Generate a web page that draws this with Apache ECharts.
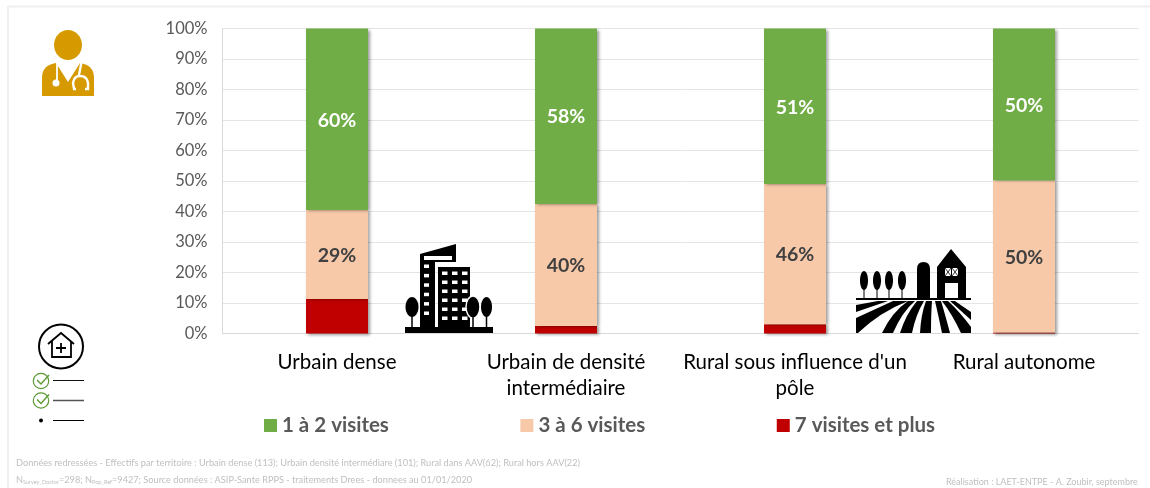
<!DOCTYPE html>
<html>
<head>
<meta charset="utf-8">
<style>
  html, body { margin: 0; padding: 0; background: #fff; }
  #chart { width: 1150px; height: 488px; }
</style>
<script src="https://cdn.jsdelivr.net/npm/echarts@6/dist/echarts.min.js"></script>
</head>
<body>
<div id="chart"></div>
<script>
// categories and values (percent)
const categories = ['Urbain dense', 'Urbain de densité\nintermédiaire', "Rural sous influence d'un\npôle", 'Rural autonome']
const visits7Plus = [11.3, 2.5, 3, 0.3]
const visits3to6 = [29.2, 40, 46, 49.9]
const visits1to2 = [59.5, 57.5, 51, 49.8]

const FONT = 'Lato, "Open Sans", sans-serif'
const GOLD = '#D69A00'
const CHECK = '#5C9A33'

function barSeries (name, data, color, labelColor) {
  return {
    type: 'bar',
    stack: 'visits',
    name: name,
    data: data,
    barWidth: 62,
    itemStyle: { color: color, shadowColor: 'rgba(0,0,0,0.4)', shadowBlur: 3, shadowOffsetX: 2, shadowOffsetY: 1 },
    label: {
      show: !!labelColor,
      position: 'inside',
      offset: [0, 1],
      color: labelColor,
      fontFamily: FONT,
      fontWeight: 'bold',
      fontSize: 19.5,
      formatter: p => Math.round(p.value) + '%'
    }
  }
}

// pictos : the graphic component has no plain 'path' type, so each one gets its own shape class
let pathCount = 0
function svgPath (d, style, z) {
  const name = 'picto' + pathCount++
  echarts.graphic.registerShape(name, echarts.graphic.extendPath(d, {}))
  return { type: name, style: style, z: z }
}
function whiteRect (x, y, w, h) {
  return { type: 'rect', shape: { x, y, width: w, height: h }, style: { fill: '#fff' }, z: 11 }
}
function tree (cx, top, rx, ry, bottom) {
  return [
    { type: 'ellipse', shape: { cx, cy: top + ry, rx, ry }, style: { fill: '#000' }, z: 10 },
    { type: 'line', shape: { x1: cx, y1: top + ry, x2: cx, y2: bottom }, style: { stroke: '#000', lineWidth: 1 }, z: 10 }
  ]
}
function line (x1, y1, x2, y2, color, w, z) {
  return { type: 'line', shape: { x1, y1, x2, y2 }, style: { stroke: color, lineWidth: w }, z: z || 10 }
}

function doctorIcon () {
  return [
    { type: 'ellipse', shape: { cx: 68, cy: 45, rx: 14, ry: 15 }, style: { fill: GOLD }, z: 10 },
    svgPath('M42 96 L42 78 Q42 65 56 63 L68 82 L80 63 Q94 65 94 78 L94 96 Z', { fill: GOLD }, 10),
    line(57, 63, 57, 80, '#fff', 1.8, 11),
    { type: 'circle', shape: { cx: 56, cy: 83, r: 3.5 }, style: { fill: '#fff' }, z: 11 },
    svgPath('M81.5 62 L79 75 M74 89 L73 83 Q74 76 80 76 Q87 76 88 83 L88 89 L85 89 M73 89 L76 89', { fill: 'none', stroke: '#fff', lineWidth: 2.4 }, 11)
  ]
}

function buildingIcon () {
  const els = [
    { type: 'rect', z: 10, shape: { x: 405, y: 327, width: 88, height: 6 }, style: { fill: '#000' } },
    svgPath('M420 254 L456 244 L456 262 L435 262 L435 327 L420 327 Z', { fill: '#000' }, 10),
    { type: 'rect', z: 10, shape: { x: 438, y: 267, width: 32, height: 60 }, style: { fill: '#000' } },
    whiteRect(424, 256, 28, 4)
  ]
  for (let i = 0; i < 6; i++) els.push(whiteRect(424, 264.5 + i * 9.4, 5, 3.5))
  for (let r = 0; r < 6; r++) {
    for (let c = 0; c < 3; c++) els.push(whiteRect(442 + c * 10, 271.5 + r * 9, 5.5, 3.5))
  }
  return els.concat(
    { type: 'ellipse', z: 12, shape: { cx: 473, cy: 307, rx: 7, ry: 11 }, style: { fill: '#000', stroke: '#fff', lineWidth: 1.5 } },
    line(473, 312, 473, 327, '#000', 1.5, 12),
    { type: 'ellipse', z: 12, shape: { cx: 486.5, cy: 307, rx: 5.5, ry: 10 }, style: { fill: '#000' } },
    line(486.5, 312, 486.5, 327, '#000', 1.5, 12),
    { type: 'ellipse', z: 12, shape: { cx: 412, cy: 307, rx: 6.5, ry: 10 }, style: { fill: '#000' } },
    line(412, 312, 412, 327, '#000', 1.5, 12)
  )
}

function farmIcon () {
  const stripes = [
    'M856 305 L878 301 L888 301 L856 312 Z',
    'M856 318 L893 301 L901 301 L866 322 L856 330 Z',
    'M856 333 L858 333 Q880 312 908 301 L899 301 Q872 312 856 327 Z',
    'M882 333 L893 333 Q902 312 915 301 L908 301 Q892 312 882 333 Z',
    'M900 333 L912 333 Q916 314 924 301 L917 301 Q906 314 900 333 Z',
    'M920 333 L931 333 Q931 314 932 301 L926 301 Q921 314 920 333 Z',
    'M942 333 L950 333 Q945 314 941 301 L935 301 Q938 314 942 333 Z',
    'M961 333 L971 333 L971 327 Q960 312 948 301 L942 301 Q952 314 961 333 Z',
    'M971 320 L971 312 Q962 306 955 301 L950 301 Q960 310 971 320 Z'
  ]
  const els = [
    line(856, 299, 971, 299, '#000', 2),
    svgPath('M917 299 L917 269 Q917 262 923.5 262 Q930 262 930 269 L930 299 Z', { fill: '#000' }, 10),
    svgPath('M937 299 L937 267 L951 249 L966 267 L966 299 Z', { fill: '#000' }, 10),
    whiteRect(945, 283, 13, 15),
    whiteRect(945, 268, 6, 8),
    whiteRect(952, 268, 6, 8),
    // croisillons des lucarnes
    line(945, 268, 951, 276, '#333', 1, 12),
    line(951, 268, 945, 276, '#333', 1, 12),
    line(952, 268, 958, 276, '#333', 1, 12),
    line(958, 268, 952, 276, '#333', 1, 12)
  ]
  ;[864, 877, 889, 902].forEach(x => els.push(...tree(x, 271, 4, 9.5, 299)))
  stripes.forEach(d => els.push(svgPath(d, { fill: '#000' }, 10)))
  return els
}

function checklistIcon () {
  const els = [
    { type: 'circle', z: 10, shape: { cx: 61, cy: 346.5, r: 22 }, style: { fill: '#fff', stroke: '#000', lineWidth: 2 } },
    svgPath('M48 344 L61 333 L74 344 M52 341 L52 357 L71 357 L71 341 M61 343 L61 353 M56 348 L66 348', { fill: 'none', stroke: '#000', lineWidth: 1.8 }, 11)
  ]
  ;[381, 400.5].forEach((y, i) => {
    els.push(
      { type: 'circle', z: 10, shape: { cx: 41, cy: y, r: 7.7 }, style: { fill: 'none', stroke: CHECK, lineWidth: 1.2 } },
      svgPath(`M37 ${y - 1} L41 ${y + 3} L49 ${y - 6}`, { fill: 'none', stroke: CHECK, lineWidth: 1.4 }, 10)
    )
  })
  els.push(
    line(53, 380.5, 84, 380.5, '#111', 1),
    line(53, 400.5, 84, 400.5, '#555', 1.5),
    { type: 'circle', z: 10, shape: { cx: 41, cy: 420.5, r: 2 }, style: { fill: '#000' } },
    line(53, 420.5, 84, 420.5, '#000', 1)
  )
  return els
}

function footText (x, y, text, size, rich) {
  return {
    type: 'text', x, y, z: 10,
    style: { text, fill: '#BFBFBF', font: size + 'px ' + FONT, rich, verticalAlign: 'middle' }
  }
}

const subRich = { s: { fontSize: 5.5, fontFamily: FONT, fill: '#BFBFBF', padding: [5, 0, 0, 0] }, n: { fontSize: 9.2, fontFamily: FONT, fill: '#BFBFBF' } }

const chart = echarts.init(document.getElementById('chart'))
chart.setOption({
  animation: false,
  backgroundColor: '#fff',
  grid: { left: 222.5, right: 11.5, top: 28.5, height: 305 },
  legend: {
    left: 259,
    top: 410,
    icon: 'rect',
    itemWidth: 13,
    itemHeight: 13,
    itemGap: 131.5,
    textStyle: { color: '#595959', fontFamily: FONT, fontWeight: 'bold', fontSize: 20.5 },
    data: ['1 à 2 visites', '3 à 6 visites', '7 visites et plus']
  },
  xAxis: {
    type: 'category',
    data: categories,
    axisTick: { show: false },
    axisLine: { lineStyle: { color: '#D9D9D9' } },
    axisLabel: { color: '#000', fontFamily: FONT, fontSize: 20.5, lineHeight: 26, margin: 16, interval: 0 }
  },
  yAxis: {
    type: 'value',
    min: 0,
    max: 100,
    interval: 10,
    axisLine: { show: true, lineStyle: { color: '#D9D9D9' } },
    axisTick: { show: false },
    splitLine: { lineStyle: { color: '#E4E4E4', width: 1 } },
    axisLabel: { color: '#595959', fontFamily: FONT, fontSize: 16.5, margin: 15, formatter: '{value}%' }
  },
  series: [
    barSeries('7 visites et plus', visits7Plus, '#C00000', null),
    barSeries('3 à 6 visites', visits3to6, '#F7C9A9', '#404040'),
    barSeries('1 à 2 visites', visits1to2, '#70AD47', '#fff')
  ],
  graphic: {
    elements: [
      svgPath('M8 488 L8 6.5 L1150 6.5', { fill: 'none', stroke: '#EFEFEF', lineWidth: 2 }, -1),
      ...doctorIcon(),
      ...buildingIcon(),
      ...farmIcon(),
      ...checklistIcon(),
      footText(16, 463, 'Données redressées - Effectifs par territoire : Urbain dense (113); Urbain densité intermédiare (101); Rural dans AAV(62); Rural hors AAV(22)', 9.2),
      footText(16, 480, '{n|N}{s|Survey_Doctor}{n|=298; N}{s|Pop_Ref}{n|=9427; Source données : ASIP-Sante RPPS - traitements Drees - donnees au 01/01/2020}', 9.2, subRich),
      footText(946, 482, 'Réalisation : LAET-ENTPE - A. Zoubir, septembre', 9)
    ]
  }
})
</script>
</body>
</html>
